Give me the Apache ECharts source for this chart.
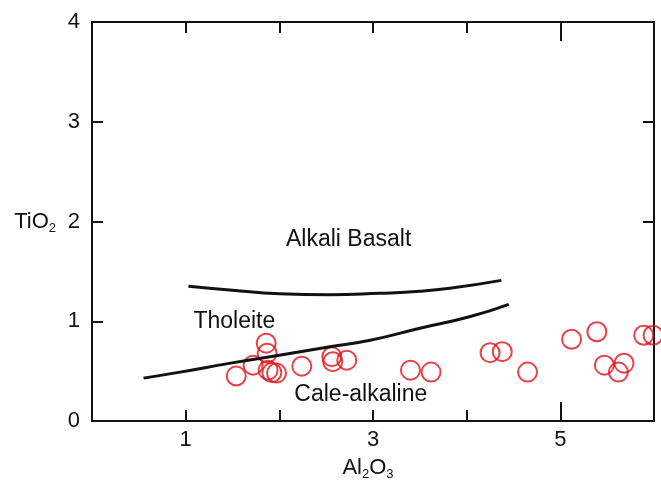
<!DOCTYPE html>
<html>
<head>
<meta charset="utf-8">
<script src="https://cdn.jsdelivr.net/npm/echarts@6/dist/echarts.min.js"></script>
<style>
  html, body { margin: 0; padding: 0; background: #fff; }
  #chart { width: 661px; height: 486px; }
</style>
</head>
<body>
<div id="chart"></div>
<script>
// discrimination boundaries (Al2O3, TiO2)
const upperCurve = [[1.03, 1.35], [1.5, 1.31], [2.0, 1.275], [2.54, 1.265], [3.07, 1.28], [3.5, 1.3], [3.82, 1.33], [4.37, 1.41]]
const lowerCurve = [[0.55, 0.43], [0.94, 0.49], [1.48, 0.58], [2.0, 0.66], [2.54, 0.745], [2.97, 0.81], [3.5, 0.93], [4.03, 1.045], [4.45, 1.17]]

// samples
const sampleAl = [1.54, 1.72, 1.86, 1.87, 1.88, 1.92, 1.97, 2.24, 2.57, 2.56, 2.72, 3.40, 3.62, 4.25, 4.38, 4.65, 5.12, 5.39, 5.47, 5.62, 5.68, 5.89, 5.99]
const sampleTi = [0.45, 0.56, 0.78, 0.68, 0.51, 0.485, 0.48, 0.55, 0.595, 0.645, 0.61, 0.51, 0.49, 0.685, 0.695, 0.49, 0.82, 0.895, 0.56, 0.49, 0.58, 0.86, 0.86]

// field names
const fieldLabels = [
  { name: 'Alkali Basalt', value: [2.74, 1.82] },
  { name: 'Tholeite', value: [1.52, 1.0] },
  { name: 'Cale-alkaline', value: [2.87, 0.26] },
]

const xTicks = [1, 2, 3, 4]
const xLongTicks = [5]
const xLabels = [1, 3, 5]
const yTicks = [1, 2, 3]
const yRightTicks = [2, 3]
const yLabels = [0, 1, 2, 3, 4]

const chart = echarts.init(document.getElementById('chart'))

const FONT = '"Liberation Sans", Arial, sans-serif'
const INK = '#111'
const frameLine = { show: true, onZero: false, lineStyle: { color: INK, width: 2 } }
const nameRich = {
  b: { fontSize: 22, fontFamily: FONT, color: INK, lineHeight: 26 },
  s: { fontSize: 13, fontFamily: FONT, color: INK, lineHeight: 26, verticalAlign: 'bottom', padding: [10, 0, 0, 0] },
}

function tickOnlyAxis(position, values, len, showLine) {
  return {
    type: 'value', position, min: 0, max: 6,
    axisLine: showLine ? frameLine : { show: false, onZero: false },
    axisTick: { show: true, inside: true, length: len, customValues: values, lineStyle: { color: INK, width: 2 } },
    axisLabel: { show: false },
    splitLine: { show: false },
  }
}

chart.setOption({
  animation: false,
  grid: { left: 92, right: 7, top: 22, bottom: 65 },
  xAxis: [
    {
      type: 'value', position: 'bottom', min: 0, max: 6,
      name: '{b|Al}{s|2}{b|O}{s|3}', nameLocation: 'middle', nameGap: 34,
      nameTextStyle: { rich: nameRich, padding: [0, 10, 0, 0] },
      axisLine: frameLine,
      axisTick: { show: true, inside: true, length: 11, customValues: xTicks, lineStyle: { color: INK, width: 2 } },
      axisLabel: { customValues: xLabels, fontSize: 22, fontFamily: FONT, color: INK, margin: 8 },
      splitLine: { show: false },
    },
    tickOnlyAxis('top', xTicks, 11, true),
    tickOnlyAxis('bottom', xLongTicks, 19, false),
    tickOnlyAxis('top', xLongTicks, 19, false),
  ],
  yAxis: [
    {
      type: 'value', position: 'left', min: 0, max: 4,
      name: '{b|TiO}{s|2}', nameLocation: 'middle', nameRotate: 0, nameGap: 36,
      nameTextStyle: { rich: nameRich, align: 'right' },
      axisLine: frameLine,
      axisTick: { show: true, inside: true, length: 11, customValues: yTicks, lineStyle: { color: INK, width: 2 } },
      axisLabel: { customValues: yLabels, fontSize: 22, fontFamily: FONT, color: INK, margin: 12 },
      splitLine: { show: false },
    },
    {
      type: 'value', position: 'right', min: 0, max: 4,
      axisLine: frameLine,
      axisTick: { show: true, inside: true, length: 11, customValues: yRightTicks, lineStyle: { color: INK, width: 2 } },
      axisLabel: { show: false },
      splitLine: { show: false },
    },
  ],
  series: [
    {
      type: 'line', data: upperCurve, smooth: true, showSymbol: false, silent: true,
      lineStyle: { color: INK, width: 3 },
    },
    {
      type: 'line', data: lowerCurve, smooth: true, showSymbol: false, silent: true,
      lineStyle: { color: INK, width: 3 },
    },
    {
      type: 'scatter', symbol: 'circle', symbolSize: 19,
      data: sampleAl.map((a, i) => [a, sampleTi[i]]),
      itemStyle: { color: 'rgba(0,0,0,0)', borderColor: '#e3121a', borderWidth: 2 },
    },
    {
      type: 'scatter', symbolSize: 0, silent: true,
      data: fieldLabels,
      itemStyle: { color: 'rgba(0,0,0,0)' },
      label: {
        show: true, position: 'inside', formatter: (p) => p.name,
        fontSize: 23, fontFamily: FONT, color: INK, textBorderWidth: 0, opacity: 1,
      },
    },
  ],
})
</script>
</body>
</html>
